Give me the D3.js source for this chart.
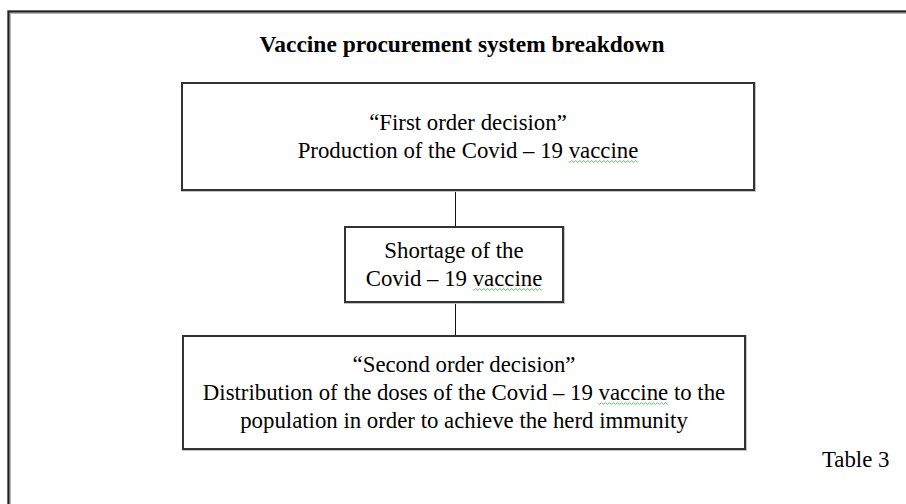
<!DOCTYPE html>
<html>
<head>
<meta charset="utf-8">
<script src="https://cdn.jsdelivr.net/npm/d3@7"></script>
<style>
  body { margin: 0; background: #fff; }
</style>
</head>
<body>
<div id="chart"></div>
<script>
var title = "Vaccine procurement system breakdown";
var caption = "Table 3";

// text lines of each box, top to bottom
var boxLines = [
  ["\u201CFirst order decision\u201D", "Production of the Covid \u2013 19 vaccine"],
  ["Shortage of the", "Covid \u2013 19 vaccine"],
  ["\u201CSecond order decision\u201D", "Distribution of the doses of the Covid \u2013 19 vaccine to the", "population in order to achieve the herd immunity"]
];
// words flagged by the spell checker (wavy underline)
var flagged = ["vaccine"];

// layout of the boxes
var boxes = [
  {x: 182, y: 83, w: 572, h: 107},
  {x: 345, y: 227, w: 218, h: 75},
  {x: 183, y: 336, w: 562, h: 113}
];

var width = 906, height = 504;
var lineH = 28;
var fs = 22.8;

var svg = d3.select("#chart")
  .append("svg")
    .attr("width", width)
    .attr("height", height);

// outer frame (runs off the right and bottom)
svg.append("path")
  .attr("d", "M9," + height + " V12 H" + width)
  .attr("fill", "none")
  .attr("stroke", "#b8b8b8")
  .attr("stroke-width", 4);
svg.append("path")
  .attr("d", "M8.5," + height + " V11.5 H" + width)
  .attr("fill", "none")
  .attr("stroke", "#222")
  .attr("stroke-width", 2);

svg.append("text")
  .attr("x", 462)
  .attr("y", 52)
  .attr("text-anchor", "middle")
  .attr("font-family", "Liberation Serif, serif")
  .attr("font-weight", "bold")
  .attr("font-size", 23.5)
  .attr("textLength", 405)
  .attr("lengthAdjust", "spacingAndGlyphs")
  .attr("fill", "#000")
  .text(title);

// connectors between boxes
for (var i = 0; i < boxes.length - 1; i++) {
  svg.append("line")
    .attr("x1", 455.5)
    .attr("x2", 455.5)
    .attr("y1", boxes[i].y + boxes[i].h)
    .attr("y2", boxes[i + 1].y)
    .attr("stroke", "#111")
    .attr("stroke-width", 1);
}

var g = svg.selectAll(".box")
  .data(boxes)
  .enter().append("g")
    .attr("class", "box");

g.append("rect")
  .attr("x", function(d) { return d.x + 0.5; })
  .attr("y", function(d) { return d.y + 0.5; })
  .attr("width", function(d) { return d.w; })
  .attr("height", function(d) { return d.h; })
  .attr("fill", "none")
  .attr("stroke", "#c4c4c4")
  .attr("stroke-width", 3);

g.append("rect")
  .attr("x", function(d) { return d.x; })
  .attr("y", function(d) { return d.y; })
  .attr("width", function(d) { return d.w; })
  .attr("height", function(d) { return d.h; })
  .attr("fill", "#fff")
  .attr("stroke", "#333")
  .attr("stroke-width", 2);

g.each(function(d, i) {
  var lines = boxLines[i];
  var cx = d.x + d.w / 2;
  var top = d.y + d.h / 2 - (lines.length - 1) * lineH / 2;
  var sel = d3.select(this);
  lines.forEach(function(t, j) {
    var y = top + j * lineH + 7;
    var txt = sel.append("text")
      .attr("x", cx)
      .attr("y", y)
      .attr("text-anchor", "middle")
      .attr("font-family", "Liberation Serif, serif")
      .attr("font-size", fs)
      .attr("fill", "#000")
      .text(t);
    flagged.forEach(function(w) {
      var k = t.indexOf(w);
      if (k < 0) return;
      var node = txt.node();
      var total = node.getComputedTextLength();
      var x0 = cx - total / 2 + node.getSubStringLength(0, k);
      var wl = node.getSubStringLength(k, w.length);
      var p = "M" + x0 + "," + (y + 4);
      for (var s = 0; s < wl; s += 2) {
        p += " L" + (x0 + s + 1) + "," + (y + 4 + ((s / 2) % 2 ? -1 : 1));
      }
      sel.append("path")
        .attr("d", p)
        .attr("fill", "none")
        .attr("stroke", "#5cb85c")
        .attr("stroke-width", 1);
    });
  });
});

svg.append("text")
  .attr("x", 822)
  .attr("y", 467)
  .attr("font-family", "Liberation Serif, serif")
  .attr("font-size", fs)
  .attr("fill", "#000")
  .text(caption);
</script>
</body>
</html>
